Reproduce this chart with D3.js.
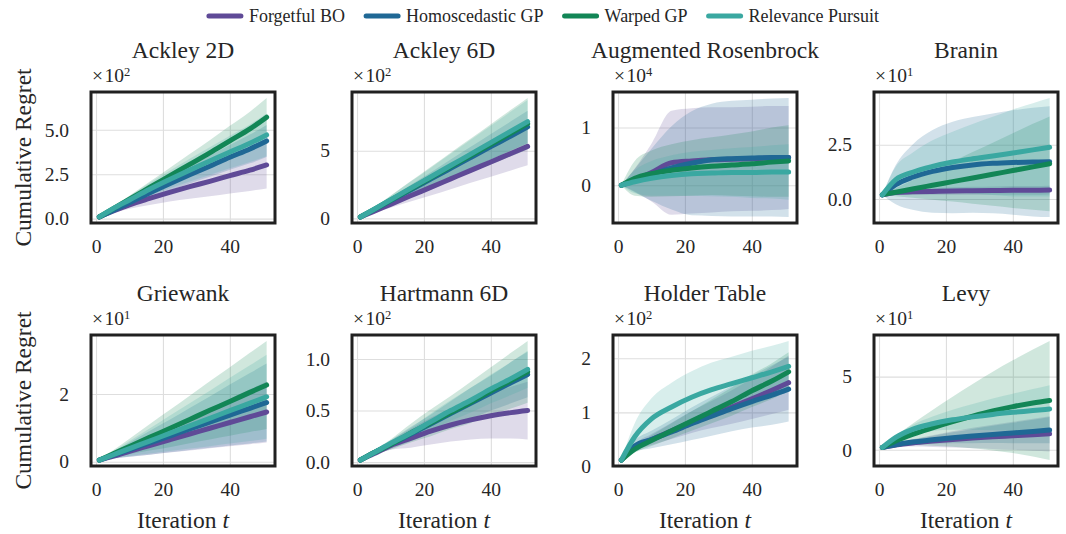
<!DOCTYPE html>
<html>
<head>
<meta charset="utf-8">
<script src="https://cdn.jsdelivr.net/npm/d3@7"></script>
<style>
  body { margin: 0; background: #ffffff; }
  svg text { font-family: "Liberation Serif", "Times New Roman", serif; fill: #262626; }
</style>
</head>
<body>
<svg id="chart" width="1066" height="534"></svg>
<script>
// Iterations at which the curves are sampled
const iterations = [1, 5, 10, 16, 22, 28, 34, 40, 46, 51];

const methods = ["Forgetful BO", "Homoscedastic GP", "Warped GP", "Relevance Pursuit"];
const methodColors = ["#5f4a97", "#1f6895", "#128656", "#3aa8a1"];

const problems = ["Ackley 2D", "Ackley 6D", "Augmented Rosenbrock", "Branin",
                  "Griewank", "Hartmann 6D", "Holder Table", "Levy"];
// Power of ten shown above each y axis (values below are in those units)
const exponents = [2, 2, 4, 1, 1, 2, 2, 1];
const yTickValues = [[0, 2.5, 5], [0, 5], [0, 1], [0, 2.5], [0, 2], [0, 0.5, 1], [0, 1, 2], [0, 5]];
const yTickDecimals = [1, 0, 0, 1, 0, 1, 0, 0];
const xTickValues = [0, 20, 40];

// Mean cumulative regret per method (rows follow `methods`), and band half-widths
const ackley2DMean = [
  [0.1, 0.42, 0.78, 1.14, 1.48, 1.8, 2.1, 2.42, 2.73, 3.02],
  [0.1, 0.45, 0.9, 1.45, 1.97, 2.47, 2.95, 3.45, 3.92, 4.37],
  [0.1, 0.55, 1.1, 1.75, 2.4, 3.05, 3.7, 4.38, 5.05, 5.71],
  [0.1, 0.55, 1.05, 1.65, 2.2, 2.73, 3.24, 3.75, 4.24, 4.71]
];
const ackley2DSpread = [
  [0.01, 0.1, 0.22, 0.37, 0.52, 0.68, 0.84, 1.0, 1.17, 1.33],
  [0.01, 0.07, 0.16, 0.27, 0.38, 0.49, 0.6, 0.7, 0.81, 0.9],
  [0.01, 0.08, 0.19, 0.32, 0.45, 0.58, 0.71, 0.84, 0.97, 1.08],
  [0.01, 0.1, 0.22, 0.36, 0.5, 0.64, 0.78, 0.92, 1.06, 1.2]
];

const ackley6DMean = [
  [0.1, 0.52, 1.04, 1.67, 2.29, 2.92, 3.55, 4.17, 4.8, 5.32],
  [0.1, 0.63, 1.3, 2.1, 2.9, 3.7, 4.5, 5.3, 6.09, 6.76],
  [0.1, 0.65, 1.34, 2.17, 3.0, 3.83, 4.65, 5.48, 6.31, 7.0],
  [0.1, 0.66, 1.37, 2.22, 3.06, 3.91, 4.75, 5.6, 6.45, 7.15]
];
const ackley6DSpread = [
  [0, 0.11, 0.25, 0.42, 0.59, 0.76, 0.92, 1.09, 1.26, 1.4],
  [0, 0.1, 0.22, 0.36, 0.5, 0.65, 0.79, 0.94, 1.08, 1.2],
  [0, 0.15, 0.34, 0.57, 0.8, 1.03, 1.25, 1.48, 1.71, 1.9],
  [0, 0.13, 0.29, 0.48, 0.67, 0.86, 1.06, 1.25, 1.44, 1.6]
];

const rosenbrockMean = [
  [0, 0.09, 0.22, 0.39, 0.42, 0.44, 0.45, 0.46, 0.47, 0.48],
  [0, 0.08, 0.18, 0.3, 0.38, 0.44, 0.46, 0.47, 0.48, 0.48],
  [0, 0.12, 0.2, 0.26, 0.3, 0.33, 0.35, 0.37, 0.4, 0.42],
  [0, 0.06, 0.12, 0.17, 0.2, 0.21, 0.22, 0.22, 0.23, 0.23]
];
const rosenbrockSpread = [
  [0, 0.2, 0.5, 0.9, 0.91, 0.91, 0.9, 0.9, 0.9, 0.89],
  [0, 0.2, 0.45, 0.72, 0.9, 0.97, 1.0, 1.01, 1.02, 1.03],
  [0, 0.3, 0.4, 0.45, 0.48, 0.5, 0.53, 0.56, 0.6, 0.62],
  [0, 0.2, 0.3, 0.35, 0.38, 0.4, 0.42, 0.44, 0.46, 0.48]
];

const braninMean = [
  [0.19, 0.3, 0.33, 0.35, 0.37, 0.38, 0.39, 0.4, 0.4, 0.41],
  [0.19, 0.66, 1.0, 1.27, 1.45, 1.57, 1.64, 1.68, 1.7, 1.72],
  [0.2, 0.31, 0.46, 0.63, 0.8, 0.97, 1.14, 1.31, 1.48, 1.62],
  [0.19, 0.89, 1.23, 1.5, 1.7, 1.85, 1.98, 2.12, 2.26, 2.38]
];
const braninSpread = [
  [0, 0.1, 0.13, 0.15, 0.17, 0.18, 0.19, 0.2, 0.2, 0.2],
  [0, 0.9, 1.5, 1.9, 2.1, 2.2, 2.3, 2.4, 2.5, 2.55],
  [0, 0.18, 0.4, 0.66, 0.92, 1.19, 1.45, 1.72, 1.98, 2.18],
  [0, 0.6, 0.9, 1.2, 1.4, 1.6, 1.8, 2.0, 2.15, 2.27]
];

const griewankMean = [
  [0.05, 0.16, 0.31, 0.48, 0.65, 0.82, 0.99, 1.16, 1.33, 1.47],
  [0.05, 0.19, 0.36, 0.56, 0.76, 0.97, 1.17, 1.38, 1.58, 1.75],
  [0.05, 0.23, 0.45, 0.72, 0.98, 1.25, 1.52, 1.78, 2.05, 2.27],
  [0.05, 0.2, 0.39, 0.61, 0.84, 1.06, 1.28, 1.51, 1.73, 1.92]
];
const griewankSpread = [
  [0, 0.07, 0.16, 0.27, 0.38, 0.49, 0.59, 0.7, 0.81, 0.9],
  [0, 0.09, 0.21, 0.35, 0.48, 0.62, 0.76, 0.9, 1.04, 1.15],
  [0, 0.1, 0.23, 0.39, 0.55, 0.7, 0.86, 1.01, 1.17, 1.3],
  [0, 0.1, 0.22, 0.37, 0.52, 0.67, 0.82, 0.97, 1.12, 1.24]
];

const hartmannMean = [
  [0.02, 0.08, 0.16, 0.23, 0.3, 0.36, 0.41, 0.45, 0.48, 0.5],
  [0.02, 0.09, 0.17, 0.27, 0.37, 0.47, 0.57, 0.67, 0.77, 0.85],
  [0.02, 0.09, 0.17, 0.28, 0.38, 0.48, 0.58, 0.69, 0.79, 0.875],
  [0.02, 0.09, 0.18, 0.28, 0.39, 0.5, 0.6, 0.71, 0.81, 0.9]
];
const hartmannSpread = [
  [0, 0.01, 0.04, 0.09, 0.13, 0.16, 0.19, 0.22, 0.25, 0.28],
  [0, 0.02, 0.04, 0.07, 0.09, 0.12, 0.15, 0.17, 0.2, 0.22],
  [0, 0.02, 0.05, 0.09, 0.13, 0.16, 0.2, 0.23, 0.27, 0.3],
  [0, 0.01, 0.03, 0.05, 0.08, 0.1, 0.12, 0.14, 0.16, 0.18]
];

const holderMean = [
  [0.12, 0.36, 0.5, 0.66, 0.82, 0.96, 1.1, 1.25, 1.41, 1.55],
  [0.12, 0.38, 0.5, 0.64, 0.79, 0.93, 1.07, 1.2, 1.32, 1.43],
  [0.12, 0.32, 0.48, 0.66, 0.84, 1.02, 1.2, 1.4, 1.58, 1.75],
  [0.12, 0.55, 0.88, 1.1, 1.28, 1.42, 1.53, 1.64, 1.75, 1.85]
];
const holderSpread = [
  [0, 0.06, 0.1, 0.15, 0.2, 0.25, 0.31, 0.37, 0.44, 0.5],
  [0, 0.1, 0.16, 0.23, 0.3, 0.36, 0.42, 0.48, 0.55, 0.6],
  [0, 0.06, 0.1, 0.14, 0.18, 0.22, 0.26, 0.3, 0.33, 0.36],
  [0, 0.25, 0.38, 0.45, 0.48, 0.5, 0.5, 0.5, 0.48, 0.47]
];

const levyMean = [
  [0.16, 0.32, 0.47, 0.6, 0.71, 0.81, 0.89, 0.96, 1.03, 1.09],
  [0.16, 0.35, 0.53, 0.68, 0.82, 0.94, 1.05, 1.15, 1.25, 1.35],
  [0.16, 0.6, 1.05, 1.5, 1.92, 2.3, 2.65, 2.95, 3.2, 3.37],
  [0.16, 0.85, 1.4, 1.78, 2.05, 2.25, 2.42, 2.56, 2.68, 2.79]
];
const levySpread = [
  [0, 0.1, 0.25, 0.4, 0.55, 0.7, 0.83, 0.96, 1.09, 1.2],
  [0, 0.07, 0.16, 0.27, 0.38, 0.49, 0.59, 0.7, 0.81, 0.9],
  [0, 0.33, 0.73, 1.22, 1.71, 2.2, 2.69, 3.17, 3.66, 4.07],
  [0, 0.13, 0.29, 0.49, 0.68, 0.88, 1.08, 1.27, 1.47, 1.63]
];

const panelMeans = [ackley2DMean, ackley6DMean, rosenbrockMean, braninMean,
                    griewankMean, hartmannMean, holderMean, levyMean];
const panelSpreads = [ackley2DSpread, ackley6DSpread, rosenbrockSpread, braninSpread,
                      griewankSpread, hartmannSpread, holderSpread, levySpread];

// ---- layout ----
const svg = d3.select("#chart");
const panelW = 184, panelH = 131;
const colLeft = [91, 352, 613, 874];
const rowTop = [92, 335];
const gridColor = "#dedede";
const frameColor = "#202020";
const tickFont = "19.5px", labelFont = "23.5px";

const xDomain = [-1.5, 53.5];

problems.forEach((name, p) => {
  const col = p % 4, row = Math.floor(p / 4);
  const left = colLeft[col], top = rowTop[row];
  const means = panelMeans[p], spreads = panelSpreads[p];

  let lo = Infinity, hi = -Infinity;
  means.forEach((m, k) => m.forEach((v, j) => {
    lo = Math.min(lo, v - spreads[k][j]);
    hi = Math.max(hi, v + spreads[k][j]);
  }));
  const pad = (hi - lo) * 0.05;

  const x = d3.scaleLinear().domain(xDomain).range([left, left + panelW]);
  const y = d3.scaleLinear().domain([lo - pad, hi + pad]).range([top + panelH, top]);

  const g = svg.append("g");

  // clip region for the plotting area
  const clipId = "clip" + p;
  svg.append("clipPath").attr("id", clipId)
    .append("rect").attr("x", left).attr("y", top).attr("width", panelW).attr("height", panelH);

  // grid + tick labels
  const xAxis = d3.axisBottom(x).tickValues(xTickValues).tickSize(-panelH).tickPadding(16)
    .tickFormat(d3.format("d"));
  const gx = g.append("g").attr("transform", `translate(0,${top + panelH})`).call(xAxis);
  const yAxis = d3.axisLeft(y).tickValues(yTickValues[p]).tickSize(-panelW).tickPadding(22)
    .tickFormat(d3.format("." + yTickDecimals[p] + "f"));
  const gy = g.append("g").attr("transform", `translate(${left},0)`).call(yAxis);
  [gx, gy].forEach(a => {
    a.select(".domain").remove();
    a.selectAll(".tick line").attr("stroke", gridColor).attr("stroke-width", 1.1);
    a.selectAll(".tick text").style("font-size", tickFont).attr("fill", "#262626");
  });

  const plot = g.append("g").attr("clip-path", `url(#${clipId})`);

  // uncertainty bands (all under the lines)
  means.forEach((m, k) => {
    const area = d3.area()
      .x((d, j) => x(iterations[j]))
      .y0((d, j) => y(d - spreads[k][j]))
      .y1((d, j) => y(d + spreads[k][j]))
      .curve(d3.curveMonotoneX);
    plot.append("path").attr("d", area(m))
      .attr("fill", methodColors[k]).attr("fill-opacity", 0.2).attr("stroke", "none");
  });
  // mean curves
  means.forEach((m, k) => {
    const line = d3.line()
      .x((d, j) => x(iterations[j]))
      .y(d => y(d))
      .curve(d3.curveMonotoneX);
    g.append("path").attr("d", line(m))
      .attr("fill", "none").attr("stroke", methodColors[k])
      .attr("stroke-width", 5).attr("stroke-linecap", "round").attr("stroke-linejoin", "round");
  });

  // frame
  g.append("rect").attr("x", left).attr("y", top).attr("width", panelW).attr("height", panelH)
    .attr("fill", "none").attr("stroke", frameColor).attr("stroke-width", 3);

  // title
  g.append("text").attr("x", left + panelW / 2).attr("y", top - 34)
    .attr("text-anchor", "middle").style("font-size", labelFont).text(name);

  // power-of-ten multiplier
  const off = g.append("text").attr("x", left + 1).attr("y", top - 10).style("font-size", tickFont);
  off.append("tspan").text("\u00d7");
  off.append("tspan").attr("dx", 1.5).text("10");
  off.append("tspan").attr("dy", -6).style("font-size", "12.5px").text(exponents[p]);

  // axis labels
  if (row === 1) {
    const xl = g.append("text").attr("x", left + panelW / 2).attr("y", top + panelH + 62)
      .attr("text-anchor", "middle").style("font-size", labelFont);
    xl.append("tspan").text("Iteration ");
    xl.append("tspan").style("font-style", "italic").text("t");
  }
  if (col === 0) {
    g.append("text")
      .attr("transform", `translate(31,${top + panelH / 2}) rotate(-90)`)
      .attr("text-anchor", "middle").style("font-size", labelFont).text("Cumulative Regret");
  }
});

// ---- legend ----
const legend = svg.append("g");
const swatchW = 32, swatchGap = 8, itemGap = 21, legendY = 16;
const items = methods.map((m, k) => {
  const it = legend.append("g");
  it.append("line").attr("x1", 0).attr("x2", swatchW).attr("y1", 0).attr("y2", 0)
    .attr("stroke", methodColors[k]).attr("stroke-width", 5).attr("stroke-linecap", "round");
  const t = it.append("text").attr("x", swatchW + swatchGap).attr("y", 6)
    .style("font-size", "18px").text(m);
  return { g: it, w: swatchW + swatchGap + t.node().getComputedTextLength() };
});
const total = d3.sum(items, d => d.w) + itemGap * (items.length - 1);
let cx = 544 - total / 2;
items.forEach(d => {
  d.g.attr("transform", `translate(${cx},${legendY})`);
  cx += d.w + itemGap;
});
</script>
</body>
</html>
